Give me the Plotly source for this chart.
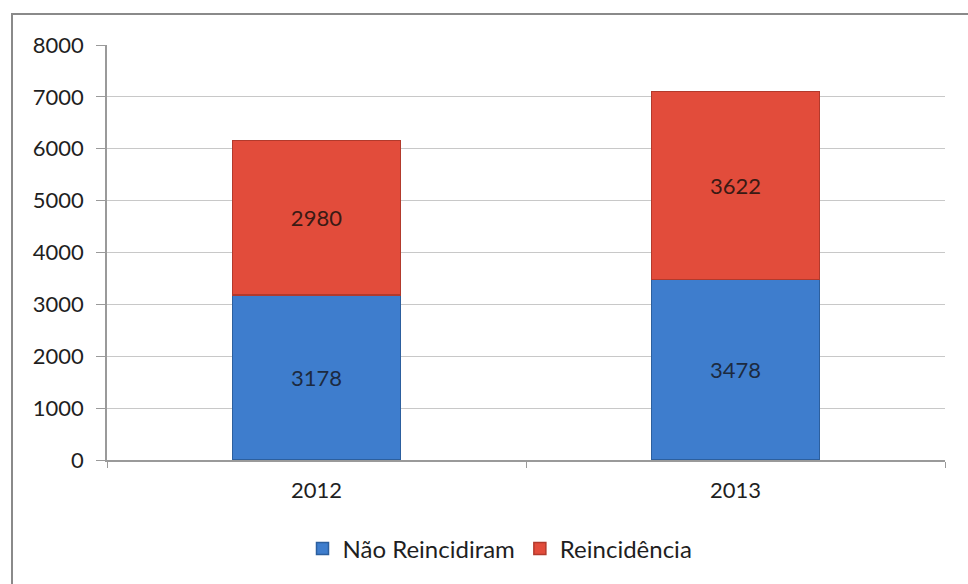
import plotly.graph_objects as go

# Data
years = ["2012", "2013"]
nao_reincidiram = [3178, 3478]
reincidencia = [2980, 3622]
y_ticks = [0, 1000, 2000, 3000, 4000, 5000, 6000, 7000, 8000]

W, H = 968, 584
L, R, T, B = 107, 23, 45, 124
pw, ph = W - L - R, H - T - B

def px(x):
    return (x - L) / pw

def py(y):
    return (H - B - y) / ph

font_family = "Lato, 'Open Sans', sans-serif"
txt = "#1f1f1f"

fig = go.Figure()
fig.add_trace(go.Bar(
    x=years, y=nao_reincidiram, name="Não Reincidiram",
    marker=dict(color="#3e7dcd", line=dict(color="#2c5f9e", width=1.5)),
    text=[str(v) for v in nao_reincidiram], textposition="inside",
    insidetextanchor="middle",
    textfont=dict(size=22, color="#1c2a40", family=font_family),
))
fig.add_trace(go.Bar(
    x=years, y=reincidencia, name="Reincidência",
    marker=dict(color="#e24c3b", line=dict(color="#b23a2c", width=1.5)),
    text=[str(v) for v in reincidencia], textposition="inside",
    insidetextanchor="middle",
    textfont=dict(size=22, color="#3a1a14", family=font_family),
))

# Chart frame
fig.add_shape(type="rect", xref="paper", yref="paper",
              x0=px(12), x1=px(1200), y0=py(800), y1=py(14),
              line=dict(color="#8a8a8a", width=2), fillcolor="rgba(0,0,0,0)",
              layer="below")

fig.update_layout(
    width=W, height=H,
    margin=dict(l=L, r=R, t=T, b=B),
    paper_bgcolor="white", plot_bgcolor="white",
    barmode="stack", bargap=0.6,
    font=dict(family=font_family, size=22, color=txt),
    showlegend=True,
    legend=dict(orientation="h", x=px(500), xanchor="center",
                y=py(549), yanchor="middle",
                font=dict(size=24, color=txt), itemwidth=30,
                traceorder="normal"),
    uniformtext=dict(mode="show", minsize=22),
)
fig.update_xaxes(
    showline=True, linecolor="#9a9a9a", linewidth=1.5,
    ticks="outside", tickson="boundaries", ticklen=6, tickcolor="#9a9a9a",
    tickfont=dict(size=22, color=txt), showgrid=False,
    ticklabelstandoff=10,
)
fig.update_yaxes(
    range=[0, 8000], tickvals=y_ticks, ticktext=[str(v) for v in y_ticks],
    showline=True, linecolor="#9a9a9a", linewidth=1.5,
    ticks="outside", ticklen=9, tickcolor="#9a9a9a",
    showgrid=True, gridcolor="#c8c8c8", gridwidth=1.3,
    tickfont=dict(size=22, color=txt), zeroline=False,
    ticklabelstandoff=8,
)

fig.write_html("out.html")
